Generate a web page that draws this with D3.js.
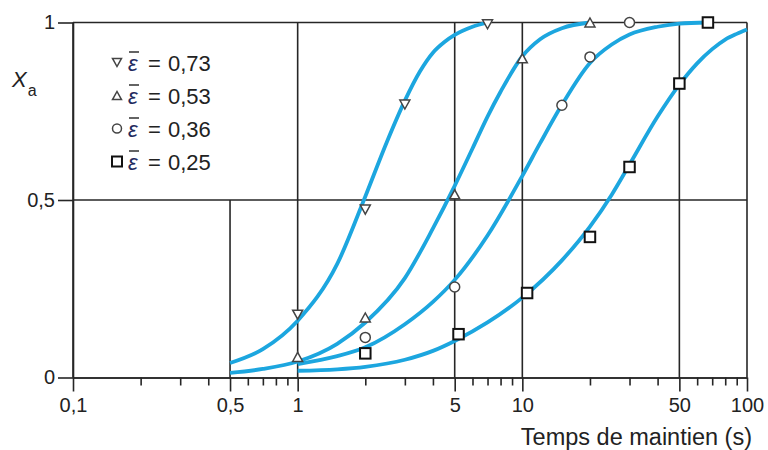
<!DOCTYPE html>
<html>
<head>
<meta charset="utf-8">
<script src="https://cdn.jsdelivr.net/npm/d3@7/dist/d3.min.js"></script>
<style>
html,body{margin:0;padding:0;background:#fff;}
svg{display:block;font-family:"Liberation Sans",Arial,Helvetica,sans-serif;}
</style>
</head>
<body>
<svg id="chart" width="768" height="450"></svg>
<script>
// ---------- data ----------
const majorTicks = [0.1, 0.5, 1, 5, 10, 50, 100];
const majorTickLabels = ["0,1", "0,5", "1", "5", "10", "50", "100"];
const minorTicks = [0.2,0.3,0.4,0.6,0.7,0.8,0.9,2,3,4,6,7,8,9,20,30,40,60,70,80,90];
const yTicks = [0, 0.5, 1];
const yTickLabels = ["0", "0,5", "1"];
const xTitle = "Temps de maintien (s)";

const legendValues = ["0,73", "0,53", "0,36", "0,25"];
const legendSymbols = ["down", "up", "circle", "square"];

// curves
const curve1T = [0.5,0.7,1,1.5,2,2.5,3,3.5,4,4.5,5,6,7];
const curve1X = [0.041,0.08,0.16,0.32,0.51,0.665,0.78,0.862,0.915,0.945,0.965,0.988,1.0];
const curve2T = [0.5,0.7,1,1.5,2,3,4,5,6,7,8,10,12,15,20];
const curve2X = [0.013,0.024,0.045,0.095,0.155,0.28,0.42,0.54,0.645,0.735,0.805,0.905,0.953,0.984,1.0];
const curve3T = [1,1.5,2,3,4,5,7,10,12,15,20,25,30,40,50,67];
const curve3X = [0.038,0.06,0.085,0.15,0.213,0.275,0.40,0.568,0.66,0.768,0.886,0.938,0.966,0.988,0.997,1.0];
const curve4T = [1,1.5,2,3,4,5,7,10,15,20,25,30,40,50,60,70,80,90,100];
const curve4X = [0.019,0.023,0.03,0.05,0.075,0.103,0.155,0.225,0.33,0.425,0.515,0.6,0.735,0.825,0.885,0.925,0.952,0.968,0.98];

// measured points
const pts1T = [1,2,3,7];          const pts1X = [0.177,0.473,0.769,0.995];
const pts2T = [1,2,5,10,20];      const pts2X = [0.058,0.169,0.516,0.899,1.0];
const pts3T = [2,5,15,20,30];     const pts3X = [0.113,0.255,0.767,0.903,1.0];
const pts4T = [2,5.2,10.5,20,30,50,67]; const pts4X = [0.068,0.122,0.238,0.396,0.593,0.828,1.0];

// ---------- chart ----------
const svg = d3.select("#chart");
const x = d3.scaleLog().domain([0.1, 100]).range([73, 747]);
const y = d3.scaleLinear().domain([0, 1]).range([377.5, 22.5]);
const gridColor = "#262626";
const textColor = "#222";
const curveColor = "#1ca6df";

// grid
const grid = svg.append("g").attr("stroke", gridColor).attr("stroke-width", 1.6);
grid.append("line").attr("x1", x(0.1)).attr("x2", x(100)).attr("y1", y(1)).attr("y2", y(1));
grid.append("line").attr("x1", x(0.1)).attr("x2", x(100)).attr("y1", y(0.5)).attr("y2", y(0.5));
[0.1, 1, 5, 10, 50, 100].forEach(v => {
  grid.append("line").attr("x1", x(v)).attr("x2", x(v)).attr("y1", y(1)).attr("y2", y(0));
});
grid.append("line").attr("x1", x(0.5)).attr("x2", x(0.5)).attr("y1", y(0.5)).attr("y2", y(0));

// axes
const xMinor = d3.axisBottom(x).tickValues(minorTicks).tickSize(8).tickFormat("").tickSizeOuter(0);
const xMajor = d3.axisBottom(x).tickValues(majorTicks).tickSize(14).tickPadding(6).tickSizeOuter(0)
  .tickFormat((d, i) => majorTickLabels[i]);
const gxm = svg.append("g").attr("transform", `translate(0,${y(0)})`).call(xMinor);
const gx = svg.append("g").attr("transform", `translate(0,${y(0)})`).call(xMajor);
const yAxis = d3.axisLeft(y).tickValues(yTicks).tickSize(15).tickPadding(3).tickSizeOuter(0)
  .tickFormat((d, i) => yTickLabels[i]);
const gy = svg.append("g").attr("transform", `translate(${x(0.1)},0)`).call(yAxis);
[gxm, gx, gy].forEach(g => {
  g.select(".domain").attr("stroke", gridColor).attr("stroke-width", 1.6);
  g.selectAll(".tick line").attr("stroke", gridColor).attr("stroke-width", 1.6);
  g.selectAll(".tick text").attr("fill", textColor).style("font-size", "20px")
    .style("font-family", "'Liberation Sans', Arial, sans-serif");
});

// axis titles
svg.append("text").attr("x", 752).attr("y", 445).attr("text-anchor", "end")
  .attr("fill", textColor).style("font-size", "23.5px").text(xTitle);
const yl = svg.append("text").attr("x", 12).attr("y", 87).attr("fill", textColor).style("font-size", "22px");
yl.append("tspan").style("font-style", "italic").text("X");
yl.append("tspan").attr("dx", 1).attr("dy", 9).style("font-size", "16px").text("a");

// curves
const line = d3.line().x(d => x(d[0])).y(d => y(d[1])).curve(d3.curveMonotoneX);
const curves = [[curve1T, curve1X], [curve2T, curve2X], [curve3T, curve3X], [curve4T, curve4X]];
svg.append("g").selectAll("path").data(curves).join("path")
  .attr("d", c => line(c[0].map((t, i) => [t, c[1][i]])))
  .attr("fill", "none").attr("stroke", curveColor).attr("stroke-width", 3.8)
  .attr("stroke-linecap", "butt");

// markers
function drawSymbol(g, kind, cx, cy, s) {
  if (kind === "down" || kind === "up") {
    const w = s, h = s * 0.9;
    const p = kind === "down"
      ? `M${cx - w/2},${cy - h/2}L${cx + w/2},${cy - h/2}L${cx},${cy + h/2}Z`
      : `M${cx - w/2},${cy + h/2}L${cx + w/2},${cy + h/2}L${cx},${cy - h/2}Z`;
    g.append("path").attr("d", p).attr("fill", "#fff").attr("stroke", "#444").attr("stroke-width", 1.5)
      .attr("stroke-linejoin", "miter");
  } else if (kind === "circle") {
    g.append("circle").attr("cx", cx).attr("cy", cy).attr("r", s / 2)
      .attr("fill", "#fff").attr("stroke", "#444").attr("stroke-width", 1.5);
  } else {
    g.append("rect").attr("x", cx - s/2).attr("y", cy - s/2).attr("width", s).attr("height", s)
      .attr("fill", "#fff").attr("stroke", "#111").attr("stroke-width", 2);
  }
}
const pointSets = [[pts1T, pts1X], [pts2T, pts2X], [pts3T, pts3X], [pts4T, pts4X]];
const mg = svg.append("g");
pointSets.forEach((ps, k) => {
  ps[0].forEach((t, i) => {
    const size = legendSymbols[k] === "square" ? 10.5 : 10;
    drawSymbol(mg, legendSymbols[k], x(t), y(ps[1][i]), size);
  });
});

// legend
const lg = svg.append("g");
const rowY0 = 62.5, rowDy = 33;
legendValues.forEach((v, i) => {
  const cy = rowY0 + i * rowDy;
  drawSymbol(lg, legendSymbols[i], 117, cy, legendSymbols[i] === "square" ? 10 : 9);
  const eps = lg.append("text").attr("x", 128).attr("y", cy + 8)
    .attr("fill", "#1f2b5e").style("font-size", "22px").style("font-style", "italic").text("ε");
  const bb = eps.node().getBBox();
  lg.append("line").attr("x1", bb.x + 1).attr("x2", bb.x + bb.width + 1)
    .attr("y1", cy - 10.5).attr("y2", cy - 10.5).attr("stroke", "#222").attr("stroke-width", 1.4);
  lg.append("text").attr("x", 148).attr("y", cy + 8).attr("fill", textColor)
    .style("font-size", "22px").text("=");
  lg.append("text").attr("x", 168).attr("y", cy + 8).attr("fill", textColor)
    .style("font-size", "22px").text(v);
});
</script>
</body>
</html>
